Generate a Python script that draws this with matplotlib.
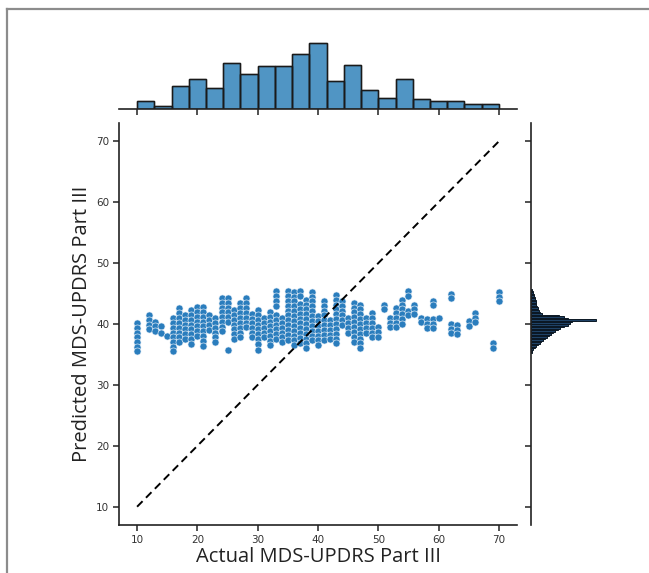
import numpy as np
import matplotlib
matplotlib.use("Agg")
import matplotlib.pyplot as plt
from matplotlib.lines import Line2D

# ---------------- data ----------------
# scatter: actual score columns and the predicted values stacked in each column
column_actual = [10, 12, 13, 14, 15, 16, 17, 18, 19, 20, 21, 22, 23, 24, 25, 26, 27, 28, 29, 30,
                 31, 32, 33, 34, 35, 36, 37, 38, 39, 40, 41, 42, 43, 44, 45, 46, 47, 48, 49, 50,
                 51, 52, 53, 54, 55, 56, 57, 58, 59, 60, 62, 63, 65, 66, 69, 70]
column_predicted = [
    [40.2, 39.4, 38.6, 37.8, 37.0, 36.2, 35.5],                 # 10
    [41.4, 40.6, 39.8, 39.2],                                   # 12
    [40.4, 39.6, 38.9],                                         # 13
    [39.6, 38.6],                                               # 14
    [38.0],                                                     # 15
    [41.0, 40.2, 39.4, 38.6, 37.8, 37.0, 36.2, 35.5],           # 16
    [42.6, 41.8, 41.0, 40.2, 39.4, 38.6, 37.8, 37.0],           # 17
    [41.5, 40.7, 39.9, 39.1, 38.3, 37.5],                       # 18
    [42.3, 41.5, 40.7, 39.9, 39.1, 38.3, 37.5, 36.7],           # 19
    [42.8, 42.0, 41.2, 40.4, 39.6, 38.8, 38.1],                 # 20
    [42.8, 42.0, 41.2, 40.4, 39.6, 38.8, 38.0, 37.2, 36.4],     # 21
    [41.4, 40.6, 39.8, 39.0],                                   # 22
    [41.0, 40.2, 39.4, 38.6, 37.8, 37.1],                       # 23
    [44.3, 43.5, 42.7, 41.9, 41.1, 40.3, 39.5, 38.8],           # 24
    [44.3, 43.5, 42.7, 41.9, 41.1, 40.3, 35.8],                 # 25
    [42.3, 41.5, 40.7, 39.9, 39.1, 38.3, 37.5],                 # 26
    [43.4, 42.6, 41.8, 41.0, 40.2, 39.4, 38.6, 37.9],           # 27
    [44.2, 43.4, 42.6, 41.8, 41.0, 40.2, 39.5],                 # 28
    [41.7, 40.9, 40.1, 39.3, 38.5, 37.8],                       # 29
    [42.3, 41.5, 40.7, 39.9, 39.1, 38.3, 37.5, 36.7, 35.7],     # 30
    [41.0, 40.2, 39.4, 38.6, 37.8],                             # 31
    [42.0, 41.2, 40.4, 39.6, 38.8, 38.0, 37.2, 36.5],           # 32
    [45.4, 44.6, 43.8, 43.0, 41.5, 40.7, 39.9, 39.1, 38.3, 37.5],   # 33
    [41.0, 40.2, 39.4, 38.6, 37.8, 37.0],                       # 34
    [45.4, 44.6, 43.8, 43.0, 42.2, 41.4, 40.6, 39.8, 39.0, 38.2, 37.4],   # 35
    [45.3, 44.5, 43.7, 42.9, 42.1, 41.3, 40.5, 39.7, 38.9, 38.1, 37.3, 36.5],   # 36
    [45.4, 44.6, 43.3, 42.5, 41.7, 40.9, 40.1, 39.3, 38.5, 37.7, 36.9],   # 37
    [44.0, 43.2, 42.4, 41.6, 40.8, 40.0, 39.2, 38.4, 37.6, 36.8, 36.0],   # 38
    [45.3, 44.5, 43.7, 42.9, 42.1, 41.3, 40.5, 39.7, 38.9, 38.1, 37.3],   # 39
    [41.3, 40.5, 39.7, 38.9, 38.1, 37.3, 36.5],                 # 40
    [43.8, 43.0, 42.2, 41.4, 40.6, 39.8, 39.0, 38.2, 37.4],     # 41
    [40.6, 39.8, 39.0, 38.2, 37.5],                             # 42
    [44.8, 44.0, 43.2, 42.4, 41.6, 40.8, 40.0, 39.2, 38.4, 37.6, 36.8],   # 43
    [43.8, 43.0, 42.2, 41.4, 40.6, 39.8],                       # 44
    [41.0, 40.2, 39.4, 38.6],                                   # 45
    [43.5, 42.7, 41.9, 41.1, 40.3, 39.5, 38.7, 37.9, 37.1],     # 46
    [43.2, 42.4, 41.6, 40.8, 40.0, 39.2, 38.4, 37.6, 36.8, 36.1],   # 47
    [41.0, 40.2, 39.4, 38.6],                                   # 48
    [41.8, 41.0, 40.2, 39.4, 38.6, 37.8],                       # 49
    [39.5, 38.7, 37.9],                                         # 50
    [43.2, 42.5],                                               # 51
    [41.0, 40.2, 39.5],                                         # 52
    [42.6, 41.8, 41.0, 40.2, 39.5],                             # 53
    [44.0, 43.2, 42.4, 41.6, 40.8, 40.0],                       # 54
    [45.4, 44.6, 42.2, 41.5],                                   # 55
    [43.2, 42.4, 41.6],                                         # 56
    [41.0, 40.3],                                               # 57
    [40.8, 40.0, 39.4],                                         # 58
    [43.8, 43.1, 40.8, 40.0, 39.3],                             # 59
    [41.0],                                                     # 60
    [44.9, 44.2, 40.0, 39.2, 38.5],                             # 62
    [39.8, 39.0, 38.4],                                         # 63
    [40.5, 39.7],                                               # 65
    [41.8, 41.0, 40.4],                                         # 66
    [36.8, 36.0],                                               # 69
    [45.2, 44.4, 43.7],                                         # 70
]

# top marginal histogram (actual), 21 bins over 10..70
actual_hist_counts = [12, 4, 36, 46, 32, 71, 54, 67, 67, 85, 103, 43, 69, 29, 16, 47, 15, 12, 12, 7, 7]
# right marginal histogram (predicted), bins of 0.25 starting at 35.25
pred_bin_start = 35.25
pred_bin_width = 0.25
pred_hist_counts = [1, 2, 3, 5, 7, 9, 11, 13, 15, 18, 20, 22, 25, 27, 30, 33, 36, 40, 45, 48, 50,
                    80, 45, 40, 35, 14, 11, 10, 9, 9, 8, 7, 7, 6, 6, 5, 5, 4, 4, 3, 3, 2]

ticks = [10, 20, 30, 40, 50, 60, 70]
xlabel = "Actual MDS-UPDRS Part III"
ylabel = "Predicted MDS-UPDRS Part III"

# ---------------- figure ----------------
W, H = 649, 573
fig = plt.figure(figsize=(W / 100, H / 100), dpi=100)
fig.patch.set_facecolor("white")

def fx(px):
    return px / W

def fy(py):
    return 1 - py / H

main_l, main_r, main_t, main_b = 119, 517, 123, 525
ax = fig.add_axes([fx(main_l), fy(main_b), fx(main_r - main_l), fy(main_t) - fy(main_b)])
ax_top = fig.add_axes([fx(main_l), fy(108.7), fx(main_r - main_l), fy(39.5) - fy(108.7)])
ax_right = fig.add_axes([fx(530.7), fy(main_b), fx(69), fy(main_t) - fy(main_b)])

point_color = "#1f77b4"

xs = []
ys = []
for xv, col in zip(column_actual, column_predicted):
    for yv in col:
        xs.append(xv)
        ys.append(yv)
ax.scatter(xs, ys, s=26, color="#2a7dbd", edgecolor="#e8f0f8", linewidth=0.45, zorder=2)
ax.plot([10, 70], [10, 70], linestyle=(0, (4, 2.5)), color="black", linewidth=1.4, zorder=3)

ax.set_xlim(7, 73)
ax.set_ylim(7, 73)
ax.set_xticks(ticks)
ax.set_yticks(ticks)
for sp in ["top", "right"]:
    ax.spines[sp].set_visible(False)
for sp in ["left", "bottom"]:
    ax.spines[sp].set_linewidth(1.2)
    ax.spines[sp].set_color("#222222")
ax.tick_params(direction="out", length=4, width=1.1, labelsize=7.5, colors="#222222", pad=3)
for lab in ax.get_xticklabels() + ax.get_yticklabels():
    lab.set_color("#333333")
ax.set_xlabel(xlabel, fontsize=14.5, family="Open Sans", color="#222222", labelpad=2)
ax.set_ylabel(ylabel, fontsize=14.5, family="Open Sans", color="#222222", labelpad=3)

# top marginal
edges_x = np.linspace(10, 70, len(actual_hist_counts) + 1)
centers_x = (edges_x[:-1] + edges_x[1:]) / 2
ax_top.hist(centers_x, bins=edges_x, weights=actual_hist_counts, color=point_color, alpha=0.78,
            edgecolor="#1a1a1a", linewidth=1.0)
ax_top.hist(centers_x, bins=edges_x, weights=actual_hist_counts, histtype="bar", fill=False,
            edgecolor="#1a1a1a", linewidth=1.0)
ax_top.set_xlim(ax.get_xlim())
ax_top.set_ylim(0, max(actual_hist_counts) * 1.05)
ax_top.set_xticks(ticks)
ax_top.tick_params(axis="x", direction="out", length=4, width=1.1, labelbottom=False, colors="#222222")
ax_top.set_yticks([])
for sp in ["top", "right", "left"]:
    ax_top.spines[sp].set_visible(False)
ax_top.spines["bottom"].set_linewidth(1.2)
ax_top.spines["bottom"].set_color("#222222")
ax_top.patch.set_alpha(0)

# right marginal
edges_y = pred_bin_start + pred_bin_width * np.arange(len(pred_hist_counts) + 1)
centers_y = (edges_y[:-1] + edges_y[1:]) / 2
ax_right.hist(centers_y, bins=edges_y, weights=pred_hist_counts, orientation="horizontal",
              color="#1f4266", edgecolor="#0b1824", linewidth=0.7)
ax_right.set_ylim(ax.get_ylim())
ax_right.set_xlim(0, max(pred_hist_counts) * 1.05)
ax_right.set_yticks(ticks)
ax_right.tick_params(axis="y", direction="out", length=4, width=1.1, labelleft=False, colors="#222222")
ax_right.set_xticks([])
for sp in ["top", "right", "bottom"]:
    ax_right.spines[sp].set_visible(False)
ax_right.spines["left"].set_linewidth(1.2)
ax_right.spines["left"].set_color("#222222")
ax_right.patch.set_alpha(0)

# outer frame of the image (top and left edges)
fig.add_artist(Line2D([fx(7), 1], [fy(9), fy(9)], color="#8c8c8c", linewidth=1.6, transform=fig.transFigure))
fig.add_artist(Line2D([fx(7), fx(7)], [fy(9), 0], color="#8c8c8c", linewidth=1.6, transform=fig.transFigure))

fig.savefig("out.png", dpi=100, facecolor="white")
